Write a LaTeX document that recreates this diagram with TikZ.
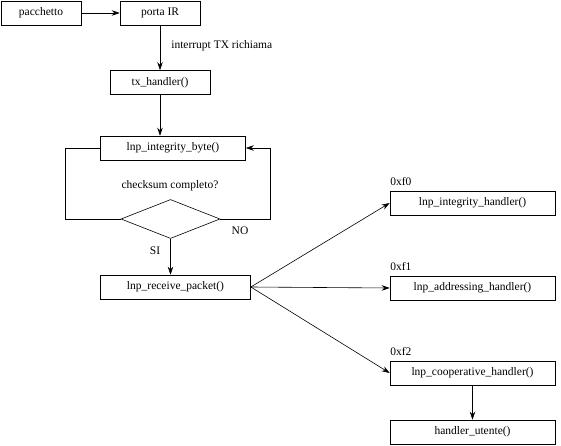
\documentclass[tikz,border=0pt]{standalone}
\usepackage{fontspec}
\setmainfont{Liberation Serif}
\usetikzlibrary{shapes.geometric,arrows.meta}
\begin{document}
\begin{tikzpicture}[x=1pt, y=-1pt, line width=0.6pt,
                    font=\fontsize{11.5}{13}\selectfont,
                    box/.style = {shape=rectangle, draw, inner sep=0pt, minimum height=24pt},
                    decision/.style = {shape=diamond, draw, inner sep=0pt},
                    flow/.style = {-{Stealth[length=8pt,width=5.5pt]}}]
    \useasboundingbox (0,0) rectangle (561,446);
    % main chain
    \node[box, minimum width=80pt]  (pkt)   at (41,13)     {pacchetto};
    \node[box, minimum width=80pt]  (porta) at (160,13)    {porta IR};
    \node[box, minimum width=100pt] (tx)    at (160,82.5)  {tx\_handler()};
    \node[box, minimum width=145pt] (ibyte) at (173,148)   {lnp\_integrity\_byte()};
    \node[decision, minimum width=99pt, minimum height=39pt] (dia) at (170.5,219) {};
    \node[box, minimum width=150pt] (recv)  at (175.5,287) {lnp\_receive\_packet()};
    % handlers
    \node[box, minimum width=165pt] (ih)  at (472.5,203) {lnp\_integrity\_handler()};
    \node[box, minimum width=165pt] (ah)  at (472.5,288) {lnp\_addressing\_handler()};
    \node[box, minimum width=165pt] (ch)  at (472.5,373) {lnp\_cooperative\_handler()};
    \node[box, minimum width=165pt] (uh)  at (472.5,432) {handler\_utente()};
    % labels
    \node[anchor=west, inner sep=0pt] (irq)  at (171,46)  {interrupt TX richiama};
    \node[inner sep=0pt]              (chk)  at (170,186) {checksum completo?};
    \node[inner sep=0pt]              (no)   at (240,231) {NO};
    \node[inner sep=0pt]              (si)   at (155,251) {SI};
    \node[anchor=west, inner sep=0pt] (f0)   at (390,182) {0xf0};
    \node[anchor=west, inner sep=0pt] (f1)   at (390,267) {0xf1};
    \node[anchor=west, inner sep=0pt] (f2)   at (390,352) {0xf2};
    \coordinate (loopL) at (65,219);
    \coordinate (loopR) at (270,219);
    % connectors
    \draw[flow] (pkt) -- (porta);
    \draw[flow] (porta) -- (tx);
    \draw[flow] (tx.south) -- (tx.south |- ibyte.north);
    \draw (ibyte.west) -| (loopL) -- (dia.west);
    \draw[flow] (dia.east) -- (loopR) |- (ibyte.east);
    \draw[flow] (dia.south) -- (dia.south |- recv.north);
    \draw[flow] (recv.east) -- (ih.west);
    \draw[flow] (recv.east) -- (ah.west);
    \draw[flow] (recv.east) -- (ch.west);
    \draw[flow] (ch) -- (uh);
\end{tikzpicture}
\end{document}
